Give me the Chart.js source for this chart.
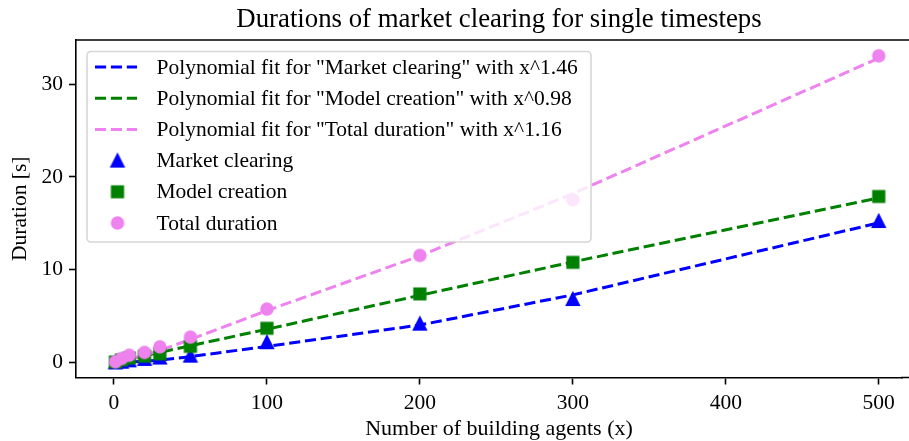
<!DOCTYPE html>
<html>
<head>
<meta charset="utf-8">
<script src="https://cdn.jsdelivr.net/npm/chart.js@4.4.1/dist/chart.umd.min.js"></script>
<style>
  html, body { margin: 0; padding: 0; background: #fff; overflow: hidden; }
  #wrap { width: 909px; height: 441px; }
</style>
</head>
<body>
<div id="wrap"><canvas id="c" width="909" height="441"></canvas></div>
<script>
// Number of building agents per run (x)
const agents = [1, 5, 10, 20, 30, 50, 100, 200, 300, 500];

// Measured durations per timestep [s]
const marketClearing = [0.02, 0.1, 0.25, 0.4, 0.55, 0.75, 2.2, 4.2, 6.85, 15.25];
const modelCreation  = [0.07, 0.3, 0.5, 0.7, 0.95, 1.75, 3.7, 7.4, 10.8, 17.9];
const totalDuration  = [0.1, 0.45, 0.8, 1.1, 1.7, 2.75, 5.77, 11.55, 17.55, 33.05];

// Fitted curves evaluated at the same agent counts
const fitMarket = [0.0, 0.02, 0.06, 0.15, 0.28, 0.65, 1.75, 4.05, 7.3, 15.05];
const fitModel  = [0.04, 0.19, 0.37, 0.74, 1.1, 1.82, 3.6, 7.25, 10.85, 17.75];
const fitTotal  = [0.02, 0.15, 0.35, 0.8, 1.3, 2.5, 5.6, 11.5, 18.2, 32.8];

// Axis ticks
const xTicks = [0, 100, 200, 300, 400, 500];
const yTicks = [0, 10, 20, 30];

const SERIF = "'Liberation Serif', 'Times New Roman', serif";
const BASE = 21.5;
const BLUE = '#0000ff', GREEN = '#008000', VIOLET = '#ee82ee';

const pts = (ys) => agents.map((x, i) => ({ x: x, y: ys[i] }));

// Marker glyphs (filled shape with same-colour edge)
function marker(shape, color) {
  const s = 20, m = s / 2;
  const c = document.createElement('canvas');
  c.width = s; c.height = s;
  const g = c.getContext('2d');
  g.fillStyle = color; g.strokeStyle = color; g.lineWidth = 2; g.lineJoin = 'miter';
  g.beginPath();
  if (shape === 'circle') {
    g.arc(m, m, 5.75, 0, Math.PI * 2);
  } else if (shape === 'square') {
    g.rect(m - 5.6, m - 5.6, 11.2, 11.2);
  } else {
    const h = 6.1;
    g.moveTo(m, m - h); g.lineTo(m - h, m + h); g.lineTo(m + h, m + h); g.closePath();
  }
  g.fill(); g.stroke();
  return c;
}

const fitLine = (label, ys, color, order) => ({
  label, data: pts(ys), showLine: true, borderColor: color, backgroundColor: color,
  borderWidth: 3, borderDash: [11.1, 4.8], pointRadius: 0, fill: false, tension: 0, order
});
const measured = (label, ys, color, shape, order) => ({
  label, data: pts(ys), showLine: false, pointStyle: marker(shape, color),
  pointRadius: 6, pointHoverRadius: 6, borderColor: color, backgroundColor: color, order
});

const decor = {
  id: 'decor',
  afterDatasetsDraw(chart) {
    const ctx = chart.ctx, a = chart.chartArea;
    const bx = a.left + 11, by = a.top + 11.5, bw = 504, bh = 190.5;
    ctx.save();
    ctx.beginPath();
    ctx.roundRect(bx, by, bw, bh, 4);
    ctx.fillStyle = 'rgba(255,255,255,0.8)';
    ctx.fill();
    ctx.strokeStyle = 'rgba(204,204,204,0.8)';
    ctx.lineWidth = 1.6;
    ctx.stroke();
    ctx.font = BASE + 'px ' + SERIF;
    ctx.fillStyle = '#000';
    ctx.textBaseline = 'middle';
    ctx.textAlign = 'left';
    chart.data.datasets.forEach((ds, i) => {
      const cy = by + 15.5 + i * 31.2;
      if (ds.showLine) {
        ctx.save();
        ctx.strokeStyle = ds.borderColor;
        ctx.lineWidth = ds.borderWidth;
        ctx.setLineDash(ds.borderDash);
        ctx.beginPath();
        ctx.moveTo(bx + 8, cy);
        ctx.lineTo(bx + 50, cy);
        ctx.stroke();
        ctx.restore();
      } else {
        const img = ds.pointStyle;
        ctx.drawImage(img, bx + 30.5 - img.width / 2, cy - img.height / 2);
      }
      ctx.fillStyle = '#000';
      ctx.fillText(ds.label, bx + 69.5, cy + 1);
    });
    ctx.restore();
  },
  afterDraw(chart) {
    const ctx = chart.ctx, a = chart.chartArea;
    ctx.save();
    // top spine and bottom spine both run off the right edge
    ctx.strokeStyle = '#000';
    ctx.lineWidth = 1.6;
    ctx.beginPath();
    ctx.moveTo(a.left - 0.8, a.top);
    ctx.lineTo(chart.width, a.top);
    ctx.moveTo(a.right - 1, a.bottom);
    ctx.lineTo(chart.width, a.bottom);
    ctx.stroke();
    ctx.fillStyle = '#000';
    ctx.textAlign = 'center';
    ctx.textBaseline = 'alphabetic';
    const cx = 499;
    ctx.font = '26.8px ' + SERIF;
    ctx.fillText('Durations of market clearing for single timesteps', cx, 27);
    ctx.font = '22px ' + SERIF;
    ctx.fillText('Number of building agents (x)', cx, 435);
    ctx.font = BASE + 'px ' + SERIF;
    ctx.translate(26, (a.top + a.bottom) / 2);
    ctx.rotate(-Math.PI / 2);
    ctx.fillText('Duration [s]', 0, 0);
    ctx.restore();
  }
};

const axisCommon = {
  type: 'linear',
  grid: { display: true, drawOnChartArea: false, drawTicks: true, tickLength: 7, tickWidth: 1.6, tickColor: '#000' },
  border: { display: true, color: '#000', width: 1.6 },
  ticks: { color: '#000', font: { family: SERIF, size: BASE }, padding: 6, autoSkip: false, maxRotation: 0 }
};

new Chart(document.getElementById('c'), {
  type: 'scatter',
  data: {
    datasets: [
      fitLine('Polynomial fit for "Market clearing" with x^1.46', fitMarket, BLUE, 5),
      fitLine('Polynomial fit for "Model creation" with x^0.98', fitModel, GREEN, 4),
      fitLine('Polynomial fit for "Total duration" with x^1.16', fitTotal, VIOLET, 3),
      measured('Market clearing', marketClearing, BLUE, 'triangle', 2),
      measured('Model creation', modelCreation, GREEN, 'square', 1),
      measured('Total duration', totalDuration, VIOLET, 'circle', 0)
    ]
  },
  options: {
    responsive: false,
    animation: false,
    events: [],
    layout: { padding: { top: 40, left: 0, right: 0, bottom: 0 } },
    plugins: { legend: { display: false }, tooltip: { enabled: false }, title: { display: false } },
    scales: {
      x: Object.assign({}, axisCommon, {
        min: -24.8, max: 515.2,
        afterBuildTicks: (s) => { s.ticks = xTicks.map(v => ({ value: v })); },
        afterFit: (s) => { s.height = 63.5; }
      }),
      y: Object.assign({}, axisCommon, {
        min: -1.6, max: 34.75,
        afterBuildTicks: (s) => { s.ticks = yTicks.map(v => ({ value: v })); },
        afterFit: (s) => { s.width = 76; }
      })
    }
  },
  plugins: [decor]
});
</script>
</body>
</html>
